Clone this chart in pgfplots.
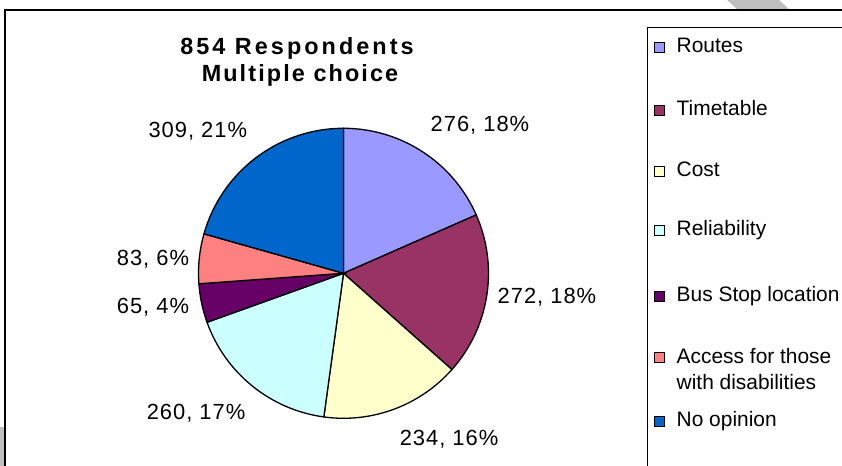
\documentclass[border=0pt]{standalone}
\usepackage{pgfplots}
\usepackage{pgfplotstable}
\usepackage{fontspec}
\setmainfont{Liberation Sans}
\pgfplotsset{compat=1.18}

\definecolor{cRoutes}{HTML}{9999FF}
\definecolor{cTime}{HTML}{993366}
\definecolor{cCost}{HTML}{FFFFCC}
\definecolor{cRel}{HTML}{CCFFFF}
\definecolor{cBus}{HTML}{660066}
\definecolor{cAccess}{HTML}{FF8080}
\definecolor{cNoop}{HTML}{0066CC}

% value, slice colour, data label position (axis units, baseline)
\pgfplotstableread[col sep=comma]{
name,value,color,lx,ly
Routes,276,cRoutes,0.941,0.976
Timetable,272,cTime,1.403,-0.205
Cost,234,cCost,0.728,-1.191
Reliability,260,cRel,-1.017,-1.005
Bus Stop location,65,cBus,-1.314,-0.274
Access for those with disabilities,83,cAccess,-1.314,0.057
No opinion,309,cNoop,-1.005,0.935
}\piedata

\tikzset{
  lbl/.style={font=\fontsize{22}{26}\selectfont\addfontfeature{LetterSpace=4.5}},
  leg/.style={font=\fontsize{21}{25}\selectfont},
  ttlA/.style={font=\fontsize{23.5}{28}\selectfont\bfseries\addfontfeature{LetterSpace=13}},
  ttlB/.style={font=\fontsize{23.5}{28}\selectfont\bfseries\addfontfeature{LetterSpace=9}},
}

\begin{document}
\begin{tikzpicture}[x=1bp,y=1bp]
\useasboundingbox (0,0) rectangle (842,466);
% watermark scraps
\fill[black!25] (727,466) -- (779,466) -- (790,456) -- (738,456) -- cycle;
\fill[black!25] (0,0) rectangle (4,39);
% chart area
\fill[white] (5,-5) rectangle (850,456);
\draw[line width=1.2bp] (5,-5) -- (5,456) -- (850,456);

\node[ttlA, anchor=base] at (297,411) {854 Respondents};
\node[ttlB, anchor=base] at (300,384.3) {Multiple choice};

\begin{axis}[
  at={(343.5bp,192.7bp)}, anchor=origin,
  x=145bp, y=145bp,
  xmin=-1, xmax=1, ymin=-1, ymax=1,
  hide axis, clip=false,
]
\def\total{0}
\pgfplotsforeachungrouped \i in {0,...,6}{%
  \pgfplotstablegetelem{\i}{value}\of\piedata
  \pgfmathsetmacro\total{\total+\pgfplotsretval}%
}
\def\cum{0}
\pgfplotsforeachungrouped \i in {0,...,6}{%
  \pgfplotstablegetelem{\i}{value}\of\piedata \let\pval\pgfplotsretval
  \pgfplotstablegetelem{\i}{color}\of\piedata \let\pcol\pgfplotsretval
  \pgfplotstablegetelem{\i}{lx}\of\piedata \let\plx\pgfplotsretval
  \pgfplotstablegetelem{\i}{ly}\of\piedata \let\ply\pgfplotsretval
  \pgfmathsetmacro\angA{90-360*(\cum/\total)}%
  \pgfmathsetmacro\angB{90-360*((\cum+\pval)/\total)}%
  \pgfmathtruncatemacro\pct{round(100*(\pval/\total))}%
  \edef\temp{%
    \noexpand\filldraw[fill=\pcol, draw=black, line width=1.3bp]
      (axis cs:0,0) -- ++(\angA:145bp)
      arc[start angle=\angA, end angle=\angB, radius=145bp] -- cycle;
    \noexpand\node[lbl, anchor=base] at (axis cs:\plx,\ply) {\pval, \pct\noexpand\%};
  }%
  \temp
  \pgfmathsetmacro\cum{\cum+\pval}%
}
\end{axis}

% legend
\draw[line width=1bp] (647,-5) -- (647,438) -- (850,438);
\foreach \col/\yy/\txt in {cRoutes/413.3/Routes, cTime/350/Timetable, cCost/289.3/Cost,
    cRel/230.3/Reliability, cBus/164.3/Bus Stop location, cNoop/39.3/No opinion}{
  \filldraw[fill=\col, draw=black, line width=1bp] (654,\yy+0.5) rectangle (664,\yy+10.5);
  \node[leg, anchor=base west, inner sep=0pt] at (676.5,\yy) {\txt};
}
\filldraw[fill=cAccess, draw=black, line width=1bp] (654,103.2) rectangle (664,113.2);
\node[leg, anchor=base west, inner sep=0pt] at (676.5,102.7) {Access for those};
\node[leg, anchor=base west, inner sep=0pt] at (676.5,76) {with disabilities};
\end{tikzpicture}
\end{document}
